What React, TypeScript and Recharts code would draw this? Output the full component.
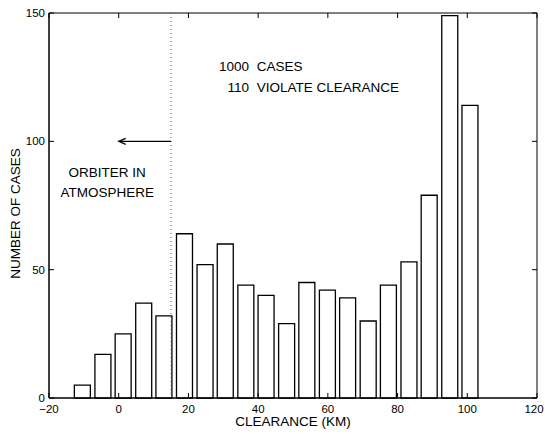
import React from 'react';
import { BarChart, Bar, XAxis, YAxis, ReferenceLine, ReferenceDot, ReferenceArea } from 'recharts';

// Histogram bin centers (clearance, km) and number of cases per bin
const clearanceBins = [-10.4, -4.5, 1.3, 7.2, 13.0, 18.9, 24.8, 30.6, 36.5, 42.3, 48.2, 54.0, 59.9, 65.7, 71.6, 77.4, 83.3, 89.1, 95.0, 100.8];
const caseCounts = [5, 17, 25, 37, 32, 64, 52, 60, 44, 40, 29, 45, 42, 39, 30, 44, 53, 79, 149, 114];
const xTicks = [-20, 0, 20, 40, 60, 80, 100, 120];
const yTicks = [0, 50, 100, 150];

const data = clearanceBins.map((c, i) => ({ center: c, count: caseCounts[i] }));

const FONT = '"Liberation Sans", Arial, Helvetica, sans-serif';
const PLOT_TOP = 13;
const PLOT_BOTTOM = 398;
const PLOT_LEFT = 49;
const PLOT_RIGHT = 537;
const TICK = 5;

const XTick = (props: any) => {
  const { x, payload } = props;
  const v = payload.value;
  const label = v < 0 ? `\u2212${Math.abs(v)}` : `${v}`;
  const tx = x > 540 - 10 ? 534 : x;
  return (
    <g>
      <line x1={x} x2={x} y1={PLOT_BOTTOM} y2={PLOT_BOTTOM - TICK} stroke="#000" />
      <line x1={x} x2={x} y1={PLOT_TOP} y2={PLOT_TOP + TICK} stroke="#000" />
      <text x={tx} y={PLOT_BOTTOM + 15} textAnchor="middle" fontSize={11.5} fontFamily={FONT} fill="#000">
        {label}
      </text>
    </g>
  );
};

const YTick = (props: any) => {
  const { y, payload } = props;
  return (
    <g>
      <line x1={PLOT_LEFT} x2={PLOT_LEFT + TICK} y1={y} y2={y} stroke="#000" />
      <line x1={PLOT_RIGHT} x2={PLOT_RIGHT - TICK} y1={y} y2={y} stroke="#000" />
      <text x={PLOT_LEFT - 4} y={y + 4} textAnchor="end" fontSize={11.5} fontFamily={FONT} fill="#000">
        {payload.value}
      </text>
    </g>
  );
};

const textShape = (txt: string, anchor: 'start' | 'middle' | 'end') => (p: any) => (
  <text x={p.cx} y={p.cy} textAnchor={anchor} dominantBaseline="central" fontSize={13.5} fontFamily={FONT} fill="#000">
    {txt}
  </text>
);

const arrowHead = (p: any) => (
  <path d={`M ${p.cx + 7} ${p.cy - 3} L ${p.cx} ${p.cy} L ${p.cx + 7} ${p.cy + 3}`} stroke="#000" fill="none" strokeWidth={1.2} />
);

export default function App() {
  return (
    <div style={{ position: 'absolute', left: 0, top: 0, background: '#fff', width: 545, height: 434 }}>
      <BarChart width={545} height={434} data={data} margin={{ top: PLOT_TOP, right: 545 - PLOT_RIGHT, left: 0, bottom: 0 }}>
        <XAxis
          type="number"
          dataKey="center"
          domain={[-20, 120]}
          ticks={xTicks}
          interval={0}
          height={434 - PLOT_BOTTOM}
          tickSize={0}
          tickMargin={0}
          tick={XTick}
          axisLine={{ stroke: '#000' }}
          label={{
            content: (p: any) => (
              <text x={p.viewBox.x + p.viewBox.width / 2} y={PLOT_BOTTOM + 28} textAnchor="middle" fontSize={13.5} fontFamily={FONT} fill="#000">
                CLEARANCE (KM)
              </text>
            ),
          }}
        />
        <YAxis
          type="number"
          domain={[0, 150]}
          ticks={yTicks}
          interval={0}
          width={PLOT_LEFT}
          tickSize={0}
          tickMargin={0}
          tick={YTick}
          axisLine={{ stroke: '#000' }}
          label={{
            content: (p: any) => {
              const cx = 15;
              const cy = p.viewBox.y + p.viewBox.height / 2 + 8;
              return (
                <text x={cx} y={cy} transform={`rotate(-90 ${cx} ${cy})`} textAnchor="middle" dominantBaseline="central" fontSize={13.5} fontFamily={FONT} fill="#000">
                  NUMBER OF CASES
                </text>
              );
            },
          }}
        />
        <ReferenceArea x1={-20} x2={120} y1={0} y2={150} fill="none" stroke="#000" strokeWidth={1} />
        <Bar dataKey="count" fill="#fff" stroke="#000" strokeWidth={1.3} barSize={16} isAnimationActive={false} />
        <ReferenceLine x={15} stroke="#555" strokeDasharray="1 3" strokeWidth={1} />
        <ReferenceLine segment={[{ x: 15, y: 100 }, { x: 0, y: 100 }]} stroke="#000" strokeWidth={1.2} />
        <ReferenceDot x={0} y={100} r={3} shape={arrowHead} />
        <ReferenceDot x={-3.3} y={88} r={1} shape={textShape('ORBITER IN', 'middle')} />
        <ReferenceDot x={-3.3} y={80.2} r={1} shape={textShape('ATMOSPHERE', 'middle')} />
        <ReferenceDot x={37.4} y={129.3} r={1} shape={textShape('1000', 'end')} />
        <ReferenceDot x={39.6} y={129.3} r={1} shape={textShape('CASES', 'start')} />
        <ReferenceDot x={37.4} y={120.8} r={1} shape={textShape('110', 'end')} />
        <ReferenceDot x={39.6} y={120.8} r={1} shape={textShape('VIOLATE CLEARANCE', 'start')} />
      </BarChart>
    </div>
  );
}
